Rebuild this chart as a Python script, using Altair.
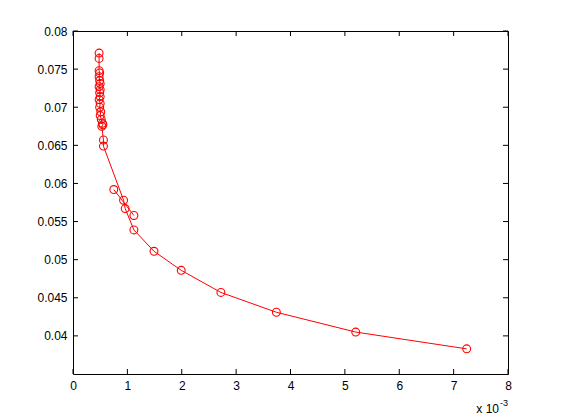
import altair as alt
import pandas as pd

# x values in units of 1e-3
main_x = [0.48, 0.48, 0.48, 0.49, 0.48, 0.49, 0.50, 0.48, 0.50, 0.49, 0.50, 0.48,
          0.50, 0.49, 0.51, 0.50, 0.52, 0.54, 0.55, 0.53, 0.56, 0.56,
          0.93, 0.96, 1.12, 1.49, 1.99, 2.72, 3.74, 5.20, 7.24]
main_y = [0.0771, 0.0764, 0.0748, 0.0745, 0.0740, 0.0735, 0.0731, 0.0727, 0.0723, 0.0719,
          0.0714, 0.0710, 0.0705, 0.0700, 0.0694, 0.0689, 0.0684, 0.0679, 0.0677, 0.0675,
          0.0657, 0.0649,
          0.0578, 0.0567, 0.0539, 0.0511, 0.0486, 0.0457, 0.0431, 0.0405, 0.0383]
branch_x = [0.75, 1.12]
branch_y = [0.0592, 0.0558]

x_ticks = [0, 1, 2, 3, 4, 5, 6, 7, 8]
y_ticks = [0.04, 0.045, 0.05, 0.055, 0.06, 0.065, 0.07, 0.075, 0.08]

W, H = 435, 343
RED = "#ff0000"
FONT = "Liberation Sans"

rows = []
for i, (a, b) in enumerate(zip(main_x, main_y)):
    rows.append({"x": a, "y": b, "seg": "main", "i": i})
for i, (a, b) in enumerate(zip(branch_x, branch_y)):
    rows.append({"x": a, "y": b, "seg": "branch", "i": i})
df = pd.DataFrame(rows)

xs = alt.Scale(domain=[0, 8], nice=False, zero=False)
ys = alt.Scale(domain=[0.035, 0.08], nice=False, zero=False)

xaxis = alt.Axis(values=x_ticks, ticks=False, domain=False, grid=False, title=None,
                 labelFont=FONT, labelFontSize=12, labelColor="black", labelPadding=6,
                 labelFlush=False)
yaxis = alt.Axis(values=y_ticks, ticks=False, domain=False, grid=False, title=None,
                 labelFont=FONT, labelFontSize=12, labelColor="black", labelPadding=6,
                 labelExpr="format(datum.value, '~g')")

base = alt.Chart(df)
line = base.mark_line(color=RED, strokeWidth=1).encode(
    x=alt.X("x:Q", scale=xs, axis=xaxis),
    y=alt.Y("y:Q", scale=ys, axis=yaxis),
    detail="seg:N",
    order="i:Q",
)
pts = base.mark_point(shape="circle", color=RED, filled=False, size=62, strokeWidth=1.1,
                      opacity=1).encode(
    x=alt.X("x:Q", scale=xs),
    y=alt.Y("y:Q", scale=ys),
)

xt = alt.Chart(pd.DataFrame({"v": x_ticks}))
yt = alt.Chart(pd.DataFrame({"v": y_ticks}))
tick_b = xt.mark_rule(color="black").encode(x=alt.X("v:Q", scale=xs), y=alt.value(H), y2=alt.value(H - 5))
tick_t = xt.mark_rule(color="black").encode(x=alt.X("v:Q", scale=xs), y=alt.value(0), y2=alt.value(5))
tick_l = yt.mark_rule(color="black").encode(y=alt.Y("v:Q", scale=ys), x=alt.value(0), x2=alt.value(5))
tick_r = yt.mark_rule(color="black").encode(y=alt.Y("v:Q", scale=ys), x=alt.value(W), x2=alt.value(W - 5))

mult = alt.Chart(pd.DataFrame({"t": ["x 10"]})).mark_text(
    font=FONT, fontSize=12, align="right", baseline="alphabetic", color="black"
).encode(text="t:N", x=alt.value(W - 9), y=alt.value(H + 39))
expo = alt.Chart(pd.DataFrame({"t": ["-3"]})).mark_text(
    font=FONT, fontSize=9, align="left", baseline="alphabetic", color="black"
).encode(text="t:N", x=alt.value(W - 8), y=alt.value(H + 32))

chart = alt.layer(line, pts, tick_b, tick_t, tick_l, tick_r, mult, expo).properties(
    width=W, height=H,
    autosize=alt.AutoSizeParams(type="none"),
    padding={"left": 65, "top": 23, "right": 40, "bottom": 45},
    background="white",
).configure_view(stroke="black", strokeWidth=1)

chart.save("out.html", embed_options={"renderer": "svg", "actions": False})
